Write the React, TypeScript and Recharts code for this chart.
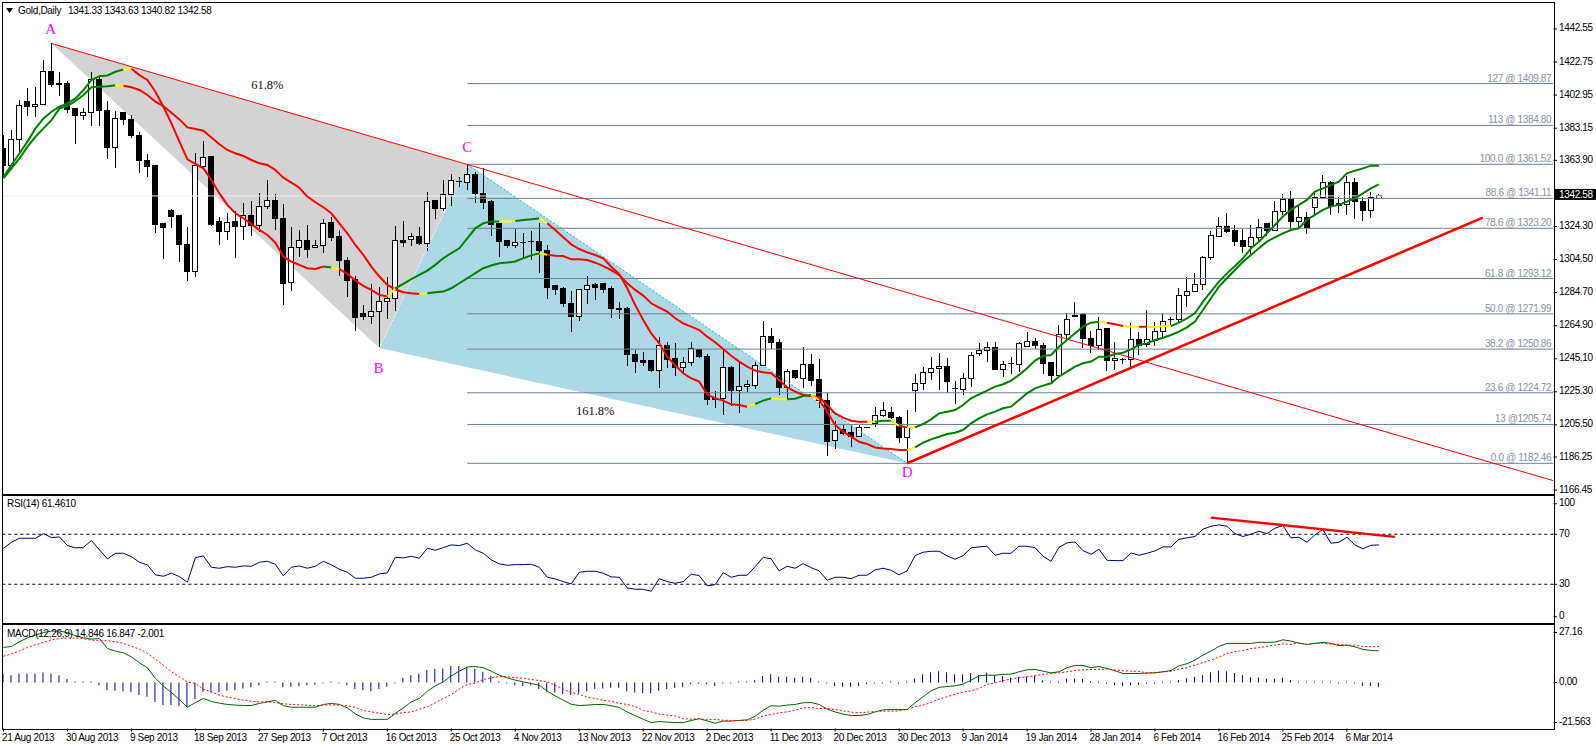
import React from 'react';
import { ComposedChart, Line, Bar, Area, XAxis, YAxis, ReferenceLine } from 'recharts';

const candles: number[][] = [
[1371.1,1379,1354.1,1360.7],[1360.7,1382,1360.7,1376.5],[1376.5,1400,1369,1396.8],[1399.2,1407,1390.6,1396],[1396.2,1407.6,1389.6,1397.2],
[1397.2,1423.9,1396.8,1417.1],[1417.3,1433.9,1408,1409.1],[1409.9,1416.7,1402.6,1409.1],[1409.9,1411.3,1392.4,1394.2],[1395,1395,1373.9,1390.6],
[1390.6,1395,1388,1392.6],[1392.6,1416.7,1384.6,1412.3],[1412.3,1414.7,1384.6,1393.6],[1393.8,1399.4,1364.9,1371.5],[1371.5,1393.2,1359.5,1389],
[1392.8,1392.8,1385,1388.2],[1388.6,1391,1377,1378.6],[1379,1380.6,1356.5,1363.7],[1363.9,1367.9,1354.1,1360.1],[1360.5,1360.5,1320.6,1325.4],
[1325.8,1325.8,1305.1,1323.8],[1333.6,1334.8,1323.4,1330.2],[1330.6,1330.6,1303.3,1313.4],[1313.6,1323.8,1291.9,1297.3],[1297.3,1368,1294.3,1360.5],
[1360.1,1375.5,1358.1,1365.7],[1365.9,1366.5,1324.6,1325.4],[1327.4,1330.2,1313.2,1321.2],[1321.4,1332.2,1316.2,1326.8],[1327,1333.4,1305.7,1324.4],
[1324.4,1338.2,1316.2,1330.8],[1331,1339.6,1318.8,1324.8],[1324.8,1344.5,1321.2,1336.4],[1336.2,1352.1,1334.8,1340],[1340,1343.7,1322.2,1329],
[1329.2,1337.8,1277.5,1290.1],[1290.9,1323.8,1285.9,1311.8],[1311.8,1322.2,1305.9,1316],[1316,1325.2,1305.7,1310.4],[1311.8,1316.2,1311.8,1313],
[1313,1328.8,1308.7,1326.2],[1326.4,1330.2,1315.8,1317.6],[1318,1322.2,1294.9,1303.9],[1304.1,1306.3,1282.3,1291.9],[1292.3,1294.7,1262,1269.8],
[1272,1277.3,1268.4,1270.6],[1270.6,1289.9,1266,1273.4],[1273.6,1287.9,1252.4,1279.3],[1279.3,1294.3,1269,1281.3],[1281.3,1324.6,1273.9,1315.8],
[1316,1327.8,1312,1314.6],[1316.4,1320.6,1312.8,1318.4],[1318.4,1323.8,1313.2,1313.8],[1314.2,1344.9,1309.8,1339.4],[1339.6,1340.2,1328.8,1334.8],
[1335.2,1352.1,1333.8,1343.5],[1343.5,1355.7,1336.6,1351.9],[1351.1,1353.7,1347.7,1350.7],[1350.7,1361.5,1346.1,1355.5],[1355.7,1357.1,1338.6,1343.9],
[1344.1,1359.5,1335,1338.6],[1339,1340.2,1318.6,1325.4],[1325.8,1325.8,1306.3,1315.2],[1316,1316,1311.6,1312.6],[1312.8,1322.6,1311.2,1314.6],
[1314.6,1320.2,1305.9,1314.2],[1315.4,1321.8,1304.2,1314.8],[1315.4,1326.2,1296.6,1310],[1310.2,1313.4,1281.1,1287.7],[1288.7,1288.7,1283.5,1286.5],
[1286.9,1287.9,1276.3,1277.9],[1278.3,1285.7,1261.3,1270.3],[1270.5,1286.7,1267.9,1286.7],[1286.7,1294.7,1277.9,1289.1],[1289.3,1290.7,1280.3,1287.7],
[1290.3,1290.3,1284.7,1286.5],[1286.9,1288.7,1269.7,1275.1],[1275.3,1278.9,1269.1,1274.5],[1274.9,1275.9,1241,1247.5],[1247.9,1250.3,1236.8,1243.4],
[1243.8,1249.1,1240.8,1243],[1243.8,1244.4,1237.2,1237.8],[1238.2,1257.9,1227.8,1252.9],[1253.1,1255.1,1239.8,1244.9],[1245.3,1254.5,1235,1239.8],
[1239.8,1246,1236.4,1242.8],[1243,1255.1,1241,1251.3],[1250.7,1250.7,1245.7,1246.3],[1246.5,1247.9,1217.4,1220.6],[1221.4,1226,1215.8,1220.6],
[1221.4,1251.1,1211.4,1240],[1240,1240.8,1217,1226],[1226,1243.9,1212.4,1228.4],[1228.6,1232.4,1225.4,1229.8],[1229,1243.1,1227,1241],
[1241,1267.7,1240.8,1258.5],[1258.5,1263.3,1250.9,1254.7],[1255.1,1256.7,1223.4,1227.8],[1228,1238.8,1220.8,1237.6],[1238.2,1238.4,1233,1233.6],
[1233.2,1252,1227.4,1241.8],[1241.8,1247.9,1228.8,1232.2],[1232.4,1244.8,1215.4,1220],[1220.2,1224.4,1187.1,1195.8],[1196.2,1208,1191.1,1202.2],
[1203,1205.4,1199.4,1200.6],[1201,1205.8,1192.5,1198.4],[1198.4,1205.4,1198,1204],[1204,1204.2,1203.9,1204],[1206.4,1216,1204.4,1211],
[1211,1219.4,1210,1214.2],[1213,1216.2,1209,1209.8],[1210,1210.8,1194.8,1197.8],[1198,1214.4,1182.5,1204],[1226.2,1236,1213.4,1230.4],
[1230.4,1240.2,1226.6,1237],[1237,1246,1232.4,1239.4],[1239.2,1248.3,1226.4,1240.6],[1240.6,1245.3,1224.8,1231.4],[1227,1231.8,1218,1226.6],
[1226.8,1236.4,1223.4,1233.4],[1233.4,1249.1,1228.4,1247.1],[1248.1,1254.3,1246.7,1250.3],[1249.9,1255.1,1243.1,1251.9],[1251.9,1255.1,1238.4,1238.6],
[1238.8,1243.8,1234.4,1241.6],[1242.4,1246,1236.2,1242],[1241.8,1255.1,1237.4,1254.3],[1252.3,1261.1,1251.9,1255.5],[1255.5,1257.3,1250.9,1252.9],
[1253.1,1254.7,1235.8,1242.2],[1243,1243,1231,1234.8],[1235,1265.3,1233.6,1259.7],[1259.7,1272.3,1256.3,1268.7],[1271.1,1279.1,1270.3,1270.3],
[1271.5,1272.3,1251.5,1257.3],[1257.3,1261.7,1248.7,1252.9],[1252.9,1269.9,1250.3,1262.7],[1262.9,1263.3,1237.8,1244],[1244,1255.1,1238.4,1245.3],
[1244.5,1245.8,1242.2,1244.2],[1244.5,1266.3,1240.4,1256.5],[1256.7,1261.1,1247.3,1253.3],[1253.5,1274.3,1252.3,1256.7],[1256.3,1266.9,1252.9,1261.5],
[1261.3,1271.7,1257.3,1267.3],[1268.7,1269.9,1264.3,1268.1],[1268.3,1287.3,1267.3,1283.1],[1282.9,1294,1276.3,1285.5],[1285.5,1296.2,1285.3,1289.7],
[1289.7,1306.8,1286.3,1305.8],[1305.6,1321.6,1304.2,1319],[1318.2,1330,1318.2,1324.4],[1324.4,1332.4,1320.6,1321],[1321.6,1325.2,1312.6,1315.2],
[1315.6,1322.8,1308.4,1312.2],[1312.2,1325.2,1307.6,1317.8],[1317.8,1328.6,1315.8,1323.8],[1325.8,1326.4,1318.6,1321.8],[1321.8,1339.8,1321.4,1333.4],
[1333.2,1343.8,1331.2,1340.6],[1340.6,1345.5,1322.2,1327.2],[1327.2,1336.6,1323,1329.8],[1329.8,1333,1319.8,1323.4],[1335.8,1344.9,1330.6,1341.8],
[1341.6,1355.1,1341.6,1350.7],[1350.7,1351.5,1331.4,1336.2],[1337.8,1341.8,1332.6,1337],[1337.6,1354.5,1331.2,1350.7],[1350.7,1353.1,1328.8,1339.2],
[1339,1341.8,1327.8,1333.8],[1334,1344.8,1329.4,1341.8],[1341.33,1343.63,1340.82,1342.58],
];

const bandUpper = [1354.1,1361.1,1368.1,1375.1,1383,1389,1393,1396,1398,1401,1406,1412,1414.3,1414.7,1416.9,1418.3,1418.7,1414.9,1412,1405,1396,1386,1375.1,1364.5,1361.7,1359.1,1352.1,1344.1,1337.2,1332.2,1329.2,1325.8,1322.2,1319.2,1314.6,1306.3,1303.3,1301.3,1299.3,1298.9,1300.3,1299.7,1298.7,1295.9,1291.9,1288.7,1286.3,1283.3,1282.3,1287.3,1289.9,1292.7,1295.3,1297.9,1301.3,1305.3,1308.3,1311.2,1317.2,1323.2,1326.2,1327.2,1327.2,1327.2,1327.6,1328.2,
1328.6,1329,1326.2,1322.2,1317.8,1313.6,1310.8,1308.8,1307.2,1305.2,1300.2,1295.8,1287.3,1277.3,1268.3,1260.3,1254.3,1246.3,1241.3,1236.4,1233.4,1231.4,1223.8,1221.4,1220,1217.8,1217.4,1216.4,1218,1220,1221.4,1220.8,1220.8,1221.2,1222.8,1223.4,1220.4,1213.4,1205.4,1201.4,1198.4,1195.4,1194,1192,1191.4,1191,1190.5,1190.5,1192,1194.8,1196.8,1198.4,1200,1200.8,1202.4,1206.4,1209.4,1211.8,1213.4,1215.4,1216.4,1220.4,1224.4,1227.4,1229,1230.4,1234.4,1237.4,1240.4,1242.4,1243.4,1246.3,1246.3,1247.9,1248.7,1250.7,1253.3,1254.3,1256.3,1257.7,1259.3,1261.3,1263.9,1267.3,1274.3,1281.3,1288.3,1293.3,1298.2,1303.2,1307.2,1311.2,1315.2,1317.8,1320.2,1322.2,1323.2,1328.2,1331.2,1334.2,1336.2,1337.2,1339.2,1341.2,1344.1,1347.1,1349.5];

const bandLower = [1353.1,1359.1,1365.1,1372.1,1378,1383,1388,1395,1396.4,1399.4,1403,1407.6,1408,1408.2,1408.8,1408.6,1407.6,1406,1403,1399,1396.4,1392.4,1388.4,1383.6,1382.6,1381.6,1377.6,1373.5,1370.1,1368.1,1366.5,1364.1,1362.1,1361.1,1358.1,1353.5,1350.5,1347.5,1342.2,1338.8,1335.8,1332.2,1326.2,1320.2,1313.2,1307.3,1300.3,1294.3,1289.3,1286.7,1284.9,1284.3,1283.9,1284.3,1284.9,1285.3,1287.3,1290.3,1293.3,1296.3,1299.3,1300.9,1302.3,1302.7,1303.3,1305.3,
1307,1308.2,1307.4,1306.8,1306.6,1304.6,1304.6,1304.2,1302.6,1300.6,1298.2,1295.2,1290.3,1286.3,1282.9,1278.3,1275.7,1273.3,1269.3,1266.3,1264.3,1262.3,1258.3,1255,1250.9,1246.9,1243.4,1240.4,1238,1237,1236.4,1232.4,1228,1225.4,1223.4,1222.8,1222,1217.4,1212.4,1209.8,1208,1207.4,1207.4,1207.4,1208,1208,1204.8,1204,1204,1206,1208.8,1212.4,1213.4,1214.4,1217.4,1221.4,1223.8,1226,1228.4,1229.8,1232,1235.4,1239.4,1244,1246.7,1247.3,1252.3,1256.3,1260.3,1264.3,1266.7,1267.3,1266.7,1265.7,1264.7,1264.3,1264.3,1264.3,1264.3,1264.7,1264.7,1266.7,1269.3,1272.3,1279.3,1285.3,1291.3,1296.2,1300.6,1305.2,1311.2,1315.2,1320.2,1325.2,1330.2,1334.2,1337.2,1340.2,1345.2,1347.1,1349.1,1351.1,1356.1,1357.7,1359.1,1360.7,1360.7];

const upperColors: [number, number, string][] = [[0,15,'#008000'],[15,16,'#ffff00'],[16,40,'#ff0000'],[40,41,'#008000'],[41,42,'#ffff00'],[42,48,'#ff0000'],[48,49,'#ffff00'],[49,62,'#008000'],[62,64,'#ffff00'],[64,67,'#008000'],[67,68,'#ffff00'],[68,93,'#ff0000'],[93,94,'#ffff00'],[94,96,'#008000'],[96,98,'#ffff00'],[98,101,'#008000'],[101,102,'#ffff00'],[102,113,'#ff0000'],[113,114,'#ffff00'],[114,172,'#008000']];
const lowerColors: [number, number, string][] = [[0,14,'#008000'],[14,15,'#ffff00'],[15,52,'#ff0000'],[52,53,'#ffff00'],[53,67,'#008000'],[67,68,'#ffff00'],[68,108,'#ff0000'],[108,109,'#ffff00'],[109,111,'#008000'],[111,112,'#ffff00'],[112,113,'#ff0000'],[113,114,'#ffff00'],[114,137,'#008000'],[137,138,'#ffff00'],[138,140,'#ff0000'],[140,142,'#ffff00'],[142,143,'#ff0000'],[143,146,'#ffff00'],[146,172,'#008000']];

const rsi = [58.8,63.6,66.8,66.8,66.8,70.5,67.3,67.9,60.9,59.1,59.6,64.9,57.5,50.3,54.8,54.8,52.1,47.6,45.5,37.5,36.4,38.8,36.1,31.6,51.3,52.7,43.6,42.8,44.1,43.6,44.7,44.4,47.6,48.4,46,36.7,43.6,44.7,42.8,44.4,48.4,45.5,42,39.6,34.8,34.8,35.6,38.3,39.1,51.6,51.1,52.4,50.8,58.8,57.2,59.3,61.5,60.9,62.8,57.5,54.8,49.5,46.3,45.2,45.7,45.7,
46,43.6,35.6,34.3,32.1,30.3,39.6,40.4,40.4,38.8,35.9,35.6,27.1,26,26,24.4,34.5,32.1,30.8,32.1,38,37,28.7,29.7,39.3,35.6,37.2,37.2,44.1,51.6,50.3,40.7,44.4,42.8,46.5,43.3,40.7,33.2,35.6,35.6,34.5,37.2,37.2,41.5,42.8,41.2,37.5,40.7,52.9,55.6,56.4,56.4,52.7,50,52.9,59.1,59.9,60.4,53.2,54.8,54.8,60.4,60.4,59.3,52.4,48.4,59.6,
63.1,63.9,56.9,54,58,49.2,48.9,48.9,55.1,53.2,54.8,56.7,59.9,59.9,66,67.1,68.2,74,76.4,77.5,76.4,70.5,68.2,70,72.4,70.5,74.8,77,67.1,67.6,63.6,69.5,73.8,62.8,63.6,67.6,61.5,58.3,61.2,61.46];

const macd = [16.4,16.9,19.1,20.9,22.2,23.4,24.1,24.1,23.3,21.9,20.9,20.3,20.6,15.9,14.7,13.9,12,9.2,6.9,1.9,-1.7,-4.7,-8,-11.6,-9.4,-7.5,-8.9,-9.7,-10.3,-10.6,-10.8,-10.8,-9.8,-9.1,-8.4,-10.9,-11.6,-11.6,-11.6,-11.6,-10.3,-9.8,-10.3,-11.9,-14.7,-16.6,-17.3,-17.3,-17.3,-14.5,-11.9,-9.1,-7.5,-4.1,-1.6,0.3,3.1,5.3,7.2,7.5,6.9,5.3,3.4,2.2,1.1,0.3,
-0.5,-1.3,-4.1,-6.3,-8.3,-10.2,-10.8,-10.6,-10.3,-10.3,-10.9,-11.7,-13.8,-15.6,-17.2,-18.8,-18.3,-18.6,-18.8,-18.8,-17.8,-17,-18,-19.1,-18.1,-18.1,-17.8,-17.5,-15.8,-13,-10.9,-11.1,-10.6,-10.3,-9.5,-9.4,-10.3,-12.5,-13.8,-14.8,-15.5,-15.5,-15,-13.8,-12.8,-12.7,-12.7,-12.7,-9.5,-6.7,-3.9,-2.3,-1.9,-1.6,-0.8,1.1,3.1,3.4,3.4,3.8,3.9,5,5.9,6.1,5.3,4.5,5,
6.9,8,8,6.9,7.5,6.6,5.5,4.2,4.2,4.2,4.4,4.5,5,5.6,7.8,8.8,10.5,12.8,14.7,16.9,18.3,18.3,18.3,18.3,18.8,18.8,18.9,20,19.4,18.4,17.8,18.3,18.8,18.3,17.3,17.5,16.7,15.5,15,14.846];

const signal = [12.3,13.3,14.8,16.4,17.7,18.8,20,20.6,20.8,20.8,20.5,19.8,19.7,19.5,19.1,18.3,17,15.6,13.6,10.9,8.1,5,2.7,0.3,-0.5,-3.1,-4.4,-5.9,-6.9,-7.5,-8.3,-8.8,-9.1,-9.1,-9.4,-10,-10.3,-10.5,-10.6,-10.9,-10.6,-10.5,-10.6,-10.9,-11.7,-13.1,-13.8,-14.4,-15,-14.8,-14.1,-13.8,-12.5,-11.4,-9.5,-7.5,-5.6,-3.1,-0.9,-0.3,1.4,2.2,2.7,2.7,2.2,2,
1.4,0.9,0.3,-1.3,-3.1,-4.7,-5.6,-6.9,-7.5,-8.4,-8.8,-9.8,-10.3,-11.3,-13.1,-13.8,-14.8,-15.3,-15.6,-16.9,-17.2,-16.9,-17.5,-17.3,-17.7,-17.8,-17.8,-17.8,-17.2,-15.6,-15,-14.2,-13.8,-13,-11.9,-11.7,-12.2,-12.2,-12.7,-13.3,-13.9,-14.2,-13.9,-13.6,-13.4,-13.4,-13.3,-12.5,-11.4,-10.6,-9.4,-7.8,-6.7,-5.5,-4.5,-3.9,-2.8,-0.8,-0.2,0.8,1.6,2.2,2.7,3.1,3.8,4.2,4.5,
5,5.6,5.9,6.1,6.1,6.3,5.8,5.5,5.3,5.2,4.5,4.7,5,5.2,6.3,6.9,8.1,9.4,10.5,11.9,13.6,14.4,15,15.9,16.3,16.9,17.5,18.1,17.8,18.6,17.8,18.3,18.3,18,17.8,17.5,17.5,16.9,16.7,16.847];

const histogram = [4.1,3.4,4.2,4.2,4.2,4.7,4.2,3.4,1.6,0.3,0.2,0.2,-1.3,-3.6,-3.9,-4.1,-4.5,-5.9,-6.7,-9.1,-10.6,-10.6,-10.9,-11.4,-7.8,-4.4,-4.7,-4.7,-3.9,-3.6,-2.8,-2.2,-1.3,0,0,-2.2,-2,-1.6,-1.3,-0.9,-0.3,0,-0.3,-1.3,-3.1,-3.6,-4.1,-3.1,-2,-0.2,2.2,3.4,4.1,5.9,6.3,6.6,7.7,7.7,7,6.3,5,3.1,0.3,-0.2,-1.3,-1.7,
-1.3,-3.1,-4.4,-4.7,-5.5,-5.9,-5.2,-4.1,-3.1,-2.8,-2.5,-2.5,-4.1,-4.7,-5,-5,-3.9,-3.1,-2.5,-2,-0.8,-0.6,-0.8,-1.7,-0.5,-0.2,0,0.2,1.1,3,3.9,2.7,2.7,2.2,2.7,2.2,0.5,-0.2,-1.7,-2,-2,-1.7,-0.8,-0.3,-0.2,0.2,-0.2,0,1.9,3.8,4.8,5.3,4.8,3.9,3.9,4.4,3.4,4.7,3.4,3,2.3,2.7,2.7,3.1,0.9,0,0.3,
1.9,1.9,1.6,0.6,0.5,-0.2,-1.3,-1.7,-1.3,-1.1,-0.5,-0.2,0,0,1.1,2,2.7,3.4,4.8,5.6,5.3,4.4,3.4,2.5,2.3,1.7,1.7,2.2,1.1,0.2,0,0,0.2,0.2,-0.3,0,-0.2,-1.6,-1.7,-2.001];

const dateLabels = ['21 Aug 2013','30 Aug 2013','9 Sep 2013','18 Sep 2013','27 Sep 2013','7 Oct 2013','16 Oct 2013','25 Oct 2013','4 Nov 2013','13 Nov 2013','22 Nov 2013','2 Dec 2013','11 Dec 2013','20 Dec 2013','30 Dec 2013','9 Jan 2014','19 Jan 2014','28 Jan 2014','6 Feb 2014','16 Feb 2014','25 Feb 2014','6 Mar 2014'];
const dateTicks = dateLabels.map((_, i) => i * 8);
const priceTicks = [1442.55,1422.75,1402.95,1383.15,1363.9,1324.3,1304.5,1284.7,1264.9,1245.1,1225.3,1205.5,1186.25,1166.45,1342.58];
const lastPrice = 1342.58;
const rsiTicks = [100,70,30,0];
const macdTicks = [27.16,0,-21.563];
const macdTickLabels: Record<string,string> = {'27.16':'27.16','0':'0.00','-21.563':'-21.563'};

const fibLevels: [number, string][] = [[1409.87,'127 @ 1409.87'],[1384.8,'113 @ 1384.80'],[1361.52,'100.0 @ 1361.52'],[1341.11,'88.6 @ 1341.11'],[1323.2,'78.6 @ 1323.20'],[1293.12,'61.8 @ 1293.12'],[1271.99,'50.0 @ 1271.99'],[1250.86,'38.2 @ 1250.86'],[1224.72,'23.6 @ 1224.72'],[1205.74,'13 @1205.74'],[1182.46,'0.0 @ 1182.46']];
const fibStart = 58;
const xMin = -0.0625;
const xMax = 193.8125;

const grayTriangle = [{x:6,r:[1433.9,1433.9]},{x:47,r:[1251.5,1376.8]},{x:58,r:[1361.5,1361.5]}];
const blueTriangle = [{x:47,r:[1251.5,1251.5]},{x:58,r:[1240,1361.5]},{x:113,r:[1182.5,1182.5]}];
const edgeBC = [{x:47,y:1251.5},{x:58,y:1361.5}];
const edgeCD = [{x:58,y:1361.5},{x:113,y:1182.5}];
const resistance = [{x:6,y:1433.9},{x:xMax,y:1172.1}];
const support = [{x:113,y:1182.5},{x:185,y:1329.6}];
const bidLine = [{x:xMin,y:lastPrice},{x:xMax,y:lastPrice}];
const rsiTrend = [{x:151,y:83.3},{x:174,y:67.9}];
const annotations: {x:number;y:number;text:string;magenta:boolean}[] = [
  {x:5.9,y:1442.5,text:'A',magenta:true},{x:46.9,y:1239.5,text:'B',magenta:true},{x:58,y:1371.9,text:'C',magenta:true},{x:113,y:1177.4,text:'D',magenta:true},
  {x:33,y:1409,text:'61.8%',magenta:false},{x:74,y:1213.8,text:'161.8%',magenta:false},
];

const rows = candles.map((c, i) => ({ x:i, o:c[0], h:c[1], l:c[2], c:c[3], r:[c[2], c[1]], rsi:rsi[i], macd:macd[i], signal:signal[i], hist:histogram[i] }));

const FONT = '"Liberation Sans", Arial, sans-serif';
const W = 1596;
const RIGHT = 42.7;
const LEFT = 3;

const Candle = (p: any) => {
  const { x, y, width, height, payload } = p;
  const cx = x + width / 2;
  const k = height / (payload.h - payload.l);
  const top = y + (payload.h - Math.max(payload.o, payload.c)) * k;
  const bh = Math.abs(payload.o - payload.c) * k;
  const up = payload.c >= payload.o;
  return (
    <g shapeRendering="crispEdges">
      <line x1={cx} x2={cx} y1={y} y2={y + height} stroke="#000" strokeWidth={1} />
      {bh < 1.2
        ? <line x1={cx - 3} x2={cx + 3} y1={top} y2={top} stroke="#000" strokeWidth={1} />
        : <rect x={cx - 2.5} y={top} width={5} height={bh} fill={up ? '#fff' : '#000'} stroke="#000" strokeWidth={1} />}
    </g>
  );
};

const tickText = (x: number, y: number, s: string, fill = '#000') => (
  <text x={x} y={y} fontFamily={FONT} fontSize={10} letterSpacing={-0.35} fill={fill} dominantBaseline="central">{s}</text>
);

const PriceTick = (p: any) => {
  const { y, payload } = p;
  const v = payload.value;
  if (v === lastPrice) {
    return <g><rect x={1555} y={y - 7} width={41} height={11} fill="#000" />{tickText(1559, y - 1.5, v.toFixed(2), '#fff')}</g>;
  }
  return <g><line x1={1553.5} x2={1557} y1={y} y2={y} stroke="#000" />{tickText(1559, y - 1, v.toFixed(2))}</g>;
};

const RsiTick = (p: any) => {
  const { y, payload } = p;
  const v = payload.value;
  const yy = v === 100 ? y + 6 : v === 0 ? y - 6 : y - 1;
  return <g><line x1={1553.5} x2={1557} y1={yy + 1} y2={yy + 1} stroke="#000" />{tickText(1559, yy, String(v))}</g>;
};

const MacdTick = (p: any) => {
  const { y, payload } = p;
  const v = payload.value;
  const yy = v > 1 ? y + 7 : v < -1 ? y - 7 : y - 1;
  return <g><line x1={1553.5} x2={1557} y1={yy + 1} y2={yy + 1} stroke="#000" />{tickText(1559, yy, macdTickLabels[String(v)])}</g>;
};

const DateTick = (p: any) => {
  const { x, y, index } = p;
  return <g><line x1={x} x2={x} y1={y} y2={y + 3} stroke="#000" />{tickText(x - 1.5, y + 9, dateLabels[index])}</g>;
};

const flat = (d: {x:number;y:number}[], key: string, stroke: string, width: number, dash?: string) => (
  <Line key={key} data={d} dataKey="y" stroke={stroke} strokeWidth={width} strokeDasharray={dash} dot={false} isAnimationActive={false} legendType="none" />
);

const bandLines = (values: number[], segments: [number, number, string][], name: string) =>
  segments.map(([a, b, col]) =>
    flat(values.slice(a, b + 1).map((y, k) => ({ x: a + k, y })), `${name}-${a}`, col, 2));

const fibLabel = (text: string) => (p: any) => p.index === 1
  ? <text key={text} x={p.x - 2} y={p.y - 2} textAnchor="end" fontFamily={FONT} fontSize={10} letterSpacing={-0.35} fill="#8494a4">{text}</text>
  : <g key={text + p.index} />;

const noteLabel = (n: {text:string;magenta:boolean}) => (p: any) => (
  <text key={n.text} x={p.x} y={p.y} textAnchor="middle" dominantBaseline="central" fontFamily='"Liberation Serif", serif' fontSize={n.magenta ? 15 : 12.5} fill={n.magenta ? '#ff00ff' : '#111'}>{n.text}</text>
);

const hdr = (left: number, top: number, s: string) => (
  <div style={{ position:'absolute', left, top, font:`10px ${FONT}`, letterSpacing:-0.3, lineHeight:'12px', color:'#000', whiteSpace:'pre' }}>{s}</div>
);
const frame = (top: number, height: number) => (
  <div style={{ position:'absolute', left:2, top, width:1551, height, border:'1px solid #000', boxSizing:'content-box', pointerEvents:'none' }} />
);

export default function App() {
  return (
    <div style={{ position:'absolute', left:0, top:0, width:W, height:746, background:'#fff', overflow:'hidden' }}>
      <div style={{ position:'absolute', left:0, top:0 }}>
        <ComposedChart width={W} height={494} data={rows} margin={{ top:2.5, right:0, bottom:0.5, left:LEFT }}>
          <XAxis dataKey="x" type="number" domain={[xMin, xMax]} hide allowDataOverflow />
          <YAxis yAxisId={0} orientation="right" width={RIGHT} type="number" domain={[1164.4, 1458.4]} ticks={priceTicks} interval={0} tick={<PriceTick />} tickLine={false} axisLine={false} allowDataOverflow />
          <Area data={grayTriangle} dataKey="r" fill="#d3d3d3" fillOpacity={1} stroke="none" dot={false} isAnimationActive={false} legendType="none" />
          {flat(bidLine, 'bid', '#f0f0f0', 1)}
          <Area data={blueTriangle} dataKey="r" fill="#add8e6" fillOpacity={1} stroke="none" dot={false} isAnimationActive={false} legendType="none" />
          {flat(edgeBC, 'bc', '#ffffff', 1, '1 2')}
          {flat(edgeCD, 'cd', '#00c0d0', 1, '2 2')}
          {fibLevels.map(([v, t]) => (
            <Line key={t} data={[{x:fibStart,y:v},{x:xMax,y:v}]} dataKey="y" stroke="#708090" strokeWidth={1} dot={false} label={fibLabel(t)} isAnimationActive={false} legendType="none" />
          ))}
          {flat(resistance, 'res', '#ff0000', 1)}
          {flat(support, 'sup', '#ff0000', 2.6)}
          {bandLines(bandLower, lowerColors, 'lower')}
          {bandLines(bandUpper, upperColors, 'upper')}
          <Bar dataKey="r" barSize={6} shape={Candle} isAnimationActive={false} legendType="none" />
          {annotations.map((n) => (
            <Line key={n.text} data={[{x:n.x,y:n.y}]} dataKey="y" stroke="none" dot={false} label={noteLabel(n)} isAnimationActive={false} legendType="none" />
          ))}
        </ComposedChart>
      </div>
      <div style={{ position:'absolute', left:0, top:495 }}>
        <ComposedChart width={W} height={127.5} data={rows} margin={{ top:0.5, right:0, bottom:0.5, left:LEFT }}>
          <XAxis dataKey="x" type="number" domain={[xMin, xMax]} hide allowDataOverflow />
          <YAxis orientation="right" width={RIGHT} type="number" domain={[-0.2, 101]} ticks={rsiTicks} interval={0} tick={<RsiTick />} tickLine={false} axisLine={false} allowDataOverflow />
          <ReferenceLine y={70} stroke="#000" strokeDasharray="3 3" />
          <ReferenceLine y={30} stroke="#000" strokeDasharray="3 3" />
          <Line dataKey="rsi" stroke="#000080" strokeWidth={1} dot={false} isAnimationActive={false} legendType="none" />
          {flat(rsiTrend, 'rsiTrend', '#ff0000', 2.5)}
        </ComposedChart>
      </div>
      <div style={{ position:'absolute', left:0, top:624 }}>
        <ComposedChart width={W} height={122} data={rows} margin={{ top:0.5, right:0, bottom:0, left:LEFT }}>
          <XAxis dataKey="x" type="number" domain={[xMin, xMax]} ticks={dateTicks} interval={0} height={17.5} tickSize={0} tickMargin={0} tick={<DateTick />} tickLine={false} axisLine={false} allowDataOverflow />
          <YAxis orientation="right" width={RIGHT} type="number" domain={[-21.563, 27.16]} ticks={macdTicks} interval={0} tick={<MacdTick />} tickLine={false} axisLine={false} allowDataOverflow />
          <Bar dataKey="hist" barSize={1} fill="#000090" minPointSize={1} isAnimationActive={false} legendType="none" />
          <Line dataKey="macd" stroke="#006400" strokeWidth={1} dot={false} isAnimationActive={false} legendType="none" />
          <Line dataKey="signal" stroke="#ff0000" strokeWidth={1} strokeDasharray="2 2" dot={false} isAnimationActive={false} legendType="none" />
        </ComposedChart>
      </div>
      {frame(2, 491)}
      {frame(495, 126.5)}
      {frame(624, 104)}
      <svg style={{ position:'absolute', left:6, top:8 }} width={8} height={6}><polygon points="0,0 7,0 3.5,5" fill="#000" /></svg>
      {hdr(18, 5, 'Gold,Daily')}
      {hdr(68, 5, '1341.33 1343.63 1340.82 1342.58')}
      {hdr(7, 498, 'RSI(14) 61.4610')}
      {hdr(7, 628, 'MACD(12,26,9) 14.846 16.847 -2.001')}
    </div>
  );
}
